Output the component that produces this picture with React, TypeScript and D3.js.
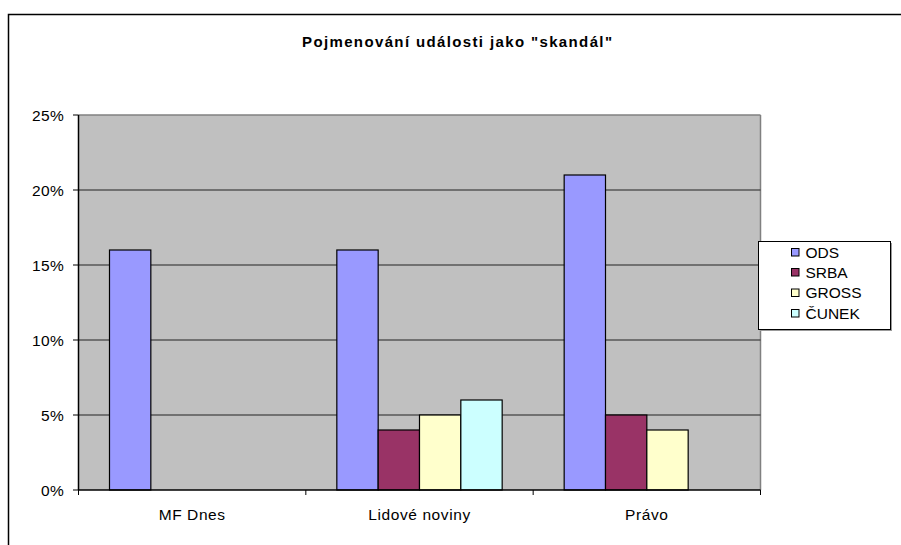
import React from "react";
import * as d3 from "d3";

const categories = ["MF Dnes", "Lidové noviny", "Právo"];
const seriesNames = ["ODS", "SRBA", "GROSS", "ČUNEK"];
const ods = [16, 16, 21];
const srba = [null, 4, 5];
const gross = [null, 5, 4];
const cunek = [null, 6, null];
const seriesValues = [ods, srba, gross, cunek];
const seriesColors = ["#9999FF", "#993366", "#FFFFCC", "#CCFFFF"];
const yTicks = [0, 5, 10, 15, 20, 25];
const title = 'Pojmenování události jako "skandál"';

export default function App() {
  const W = 901, H = 545;
  const left = 78.5, right = 760.5, top = 115, bottom = 490;
  const font = "'Liberation Sans', Arial, sans-serif";
  const fs = 15.5;

  const x = d3.scaleBand<string>().domain(categories).range([left, right]).padding(0);
  const xs = d3
    .scaleBand<string>()
    .domain(seriesNames)
    .range([0, x.bandwidth()])
    .paddingInner(0)
    .paddingOuter(0.75);
  const y = d3.scaleLinear().domain([0, 25]).range([bottom, top]);

  const legX = 758.5, legY = 241.5, legW = 132, legH = 88;
  const legRows = [252, 272, 292.5, 313];

  return (
    <svg width={W} height={H} style={{ position: "absolute", left: 0, top: 0, background: "#fff" }} fontFamily={font}>
      <rect x={0} y={0} width={W} height={H} fill="#fff" />
      <rect x={8.5} y={14.5} width={1000} height={1000} fill="none" stroke="#000" strokeWidth={1.5} />
      <text x={457} y={46.5} textAnchor="middle" fontWeight="bold" fontSize={15} textLength={310} lengthAdjust="spacing" fill="#000">
        {title}
      </text>

      <rect x={left} y={top} width={right - left} height={bottom - top} fill="#C0C0C0" />
      <line x1={left} x2={right} y1={top} y2={top} stroke="#808080" strokeWidth={1.5} />
      <line x1={right} x2={right} y1={top} y2={bottom} stroke="#808080" strokeWidth={1.5} />
      {yTicks.filter((t) => t > 0 && t < 25).map((t) => (
        <line key={t} x1={left} x2={right} y1={y(t)} y2={y(t)} stroke="#222" strokeWidth={1} />
      ))}

      {categories.map((c, ci) =>
        seriesNames.map((s, si) => {
          const v = seriesValues[si][ci];
          if (v == null) return null;
          const bx = (x(c) as number) + (xs(s) as number);
          return (
            <rect
              key={c + s}
              x={bx}
              y={y(v)}
              width={xs.bandwidth()}
              height={bottom - y(v)}
              fill={seriesColors[si]}
              stroke="#000"
              strokeWidth={1.2}
            />
          );
        })
      )}

      <line x1={left} x2={left} y1={top} y2={bottom} stroke="#000" strokeWidth={1.5} />
      <line x1={left} x2={right} y1={bottom} y2={bottom} stroke="#000" strokeWidth={1.5} />
      {yTicks.map((t) => (
        <g key={t}>
          <line x1={73} x2={left} y1={y(t)} y2={y(t)} stroke="#000" strokeWidth={1} />
          <text x={64} y={y(t) + 5.5} textAnchor="end" fontSize={fs} letterSpacing={0.3} fill="#000">
            {t}%
          </text>
        </g>
      ))}
      {[...categories.map((c) => x(c) as number), right].map((p, i) => (
        <line key={i} x1={p} x2={p} y1={bottom} y2={bottom + 5} stroke="#000" strokeWidth={1} />
      ))}
      {categories.map((c) => (
        <text key={c} x={(x(c) as number) + x.bandwidth() / 2} y={519.5} textAnchor="middle" fontSize={fs} letterSpacing={0.6} fill="#000">
          {c}
        </text>
      ))}

      <rect x={legX + 1.5} y={legY + 1.5} width={legW} height={legH} fill="#999" />
      <rect x={legX} y={legY} width={legW} height={legH} fill="#fff" stroke="#000" strokeWidth={1} />
      {seriesNames.map((s, i) => (
        <g key={s}>
          <rect x={791.5} y={legRows[i] - 3.5} width={7.5} height={7.5} fill={seriesColors[i]} stroke="#000" strokeWidth={1} />
          <text x={805.5} y={legRows[i] + 5.5} fontSize={fs} fill="#000">
            {s}
          </text>
        </g>
      ))}
    </svg>
  );
}
